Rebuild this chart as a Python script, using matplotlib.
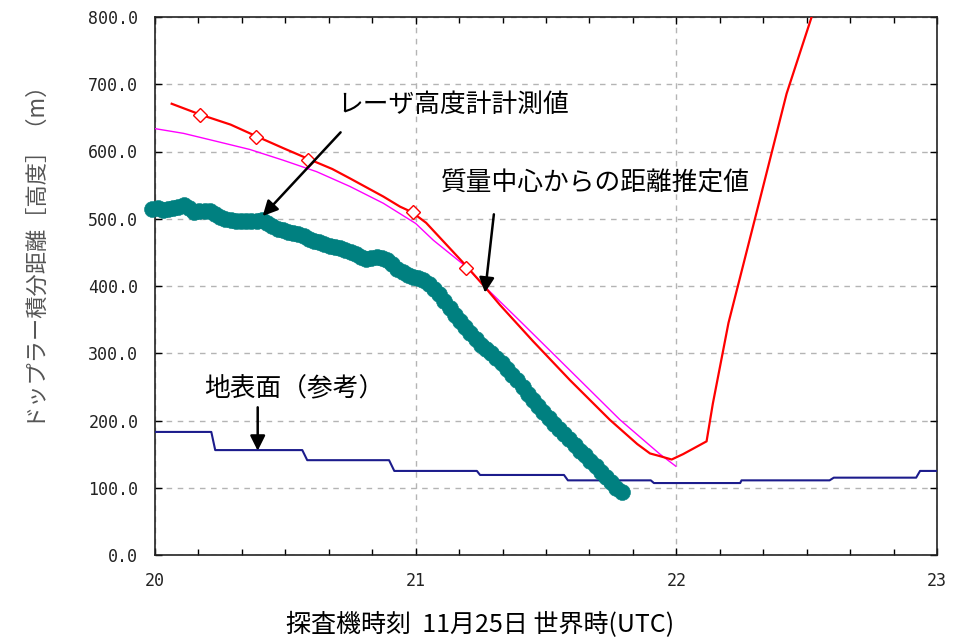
import matplotlib
matplotlib.use("Agg")
import matplotlib.pyplot as plt
from matplotlib.ticker import MultipleLocator, FormatStrFormatter

plt.rcParams['font.family'] = ['Noto Sans CJK JP', 'DejaVu Sans']

# ---- data (hours UTC, value in m) ----
ground_t = [20.00, 20.216, 20.231, 20.565, 20.584, 20.898, 20.918, 21.235, 21.247, 21.569,
            21.584, 21.902, 21.914, 22.245, 22.25, 22.588, 22.604, 22.92, 22.935, 23.00]
ground_v = [183, 183, 156, 156, 141, 141, 125, 125, 119, 119,
            111, 111, 107, 107, 111, 111, 115, 115, 125, 125]

teal_t = [19.99, 20.01, 20.03, 20.05, 20.07, 20.09, 20.11, 20.13, 20.15, 20.17,
          20.19, 20.21, 20.23, 20.25, 20.27, 20.29, 20.31, 20.33, 20.35, 20.37,
          20.39, 20.41, 20.43, 20.45, 20.47, 20.49, 20.51, 20.53, 20.55, 20.57,
          20.59, 20.61, 20.63, 20.65, 20.67, 20.69, 20.71, 20.73, 20.75, 20.77,
          20.79, 20.81, 20.83, 20.85, 20.87, 20.89, 20.91, 20.93, 20.95, 20.97,
          20.99, 21.01, 21.03, 21.05, 21.07, 21.09, 21.11, 21.13, 21.15, 21.17,
          21.19, 21.21, 21.23, 21.25, 21.27, 21.29, 21.31, 21.33, 21.35, 21.37,
          21.39, 21.41, 21.43, 21.45, 21.47, 21.49, 21.51, 21.53, 21.55, 21.57,
          21.59, 21.61, 21.63, 21.65, 21.67, 21.69, 21.71, 21.73, 21.75, 21.77,
          21.79]
teal_v = [514, 516, 513, 514, 516, 518, 521, 516, 510, 511,
          512, 511, 507, 502, 499, 498, 497, 497, 497, 496,
          497, 498, 494, 489, 485, 483, 481, 479, 477, 475,
          470, 467, 465, 462, 460, 458, 456, 453, 450, 447,
          443, 440, 441, 443, 442, 438, 433, 426, 421, 417,
          414, 412, 409, 403, 396, 388, 378, 367, 357, 348,
          339, 330, 321, 313, 306, 300, 293, 285, 276, 268,
          260, 250, 240, 231, 221, 212, 203, 195, 188, 180,
          172, 163, 155, 148, 140, 132, 124, 116, 108, 100,
          94]

laser_t = [20.064, 20.173, 20.29, 20.387, 20.492, 20.588, 20.68, 20.748, 20.876, 20.94,
           20.985, 21.04, 21.10, 21.196, 21.26, 21.323, 21.45, 21.592, 21.745, 21.85,
           21.899, 21.937, 21.982, 22.026, 22.116, 22.14, 22.20, 22.32, 22.423,
           22.519, 22.53]
laser_v = [671, 655, 640, 623, 605, 589, 574, 560, 533, 518,
           510, 494, 469, 429, 401, 372, 318, 260, 201, 165,
           151, 147, 142, 150, 169, 225, 345, 528, 686,
           800, 815]

diamond_t = [20.173, 20.387, 20.588, 20.991, 21.193]
diamond_v = [655, 622, 588, 510, 427]

cm_t = [20.0, 20.109, 20.237, 20.364, 20.492, 20.62, 20.748, 20.876, 21.0, 21.068,
        21.196, 21.26, 21.4, 21.63, 21.784, 21.937, 21.998]
cm_v = [634, 627, 615, 603, 587, 570, 548, 523, 493, 468,
        428, 401, 348, 260, 201, 150, 132]

y_label = "ドップラー積分距離［高度］（m）"
x_label = "探査機時刻  11月25日 世界時(UTC)"
lab_laser = "レーザ高度計計測値"
lab_cm = "質量中心からの距離推定値"
lab_ground = "地表面（参考）"

# ---- figure ----
fig = plt.figure(figsize=(9.63, 6.42), dpi=100)
ax = fig.add_axes([155/963, 87/642, 782/963, 538/642])

ax.plot(ground_t, ground_v, color='#1c1c8c', lw=1.5, zorder=3)
ax.plot(cm_t, cm_v, color='#ff00ff', lw=1.0, zorder=4)
ax.plot(laser_t, laser_v, color='#ff0000', lw=1.6, zorder=5)
ax.plot(diamond_t, diamond_v, ls='none', marker='D', ms=7, mfc='white',
        mec='#ff0000', mew=1.0, zorder=6)
ax.plot(teal_t, teal_v, ls='none', marker='o', ms=11.5, color='#008080',
        mec='#008080', mew=0.4, zorder=4, clip_on=False)

ax.set_xlim(20, 23)
ax.set_ylim(0, 800)
ax.xaxis.set_major_locator(MultipleLocator(1))
ax.xaxis.set_minor_locator(MultipleLocator(1/6))
ax.yaxis.set_major_locator(MultipleLocator(100))
ax.yaxis.set_major_formatter(FormatStrFormatter('%.1f'))
ax.xaxis.set_major_formatter(FormatStrFormatter('%d'))

ax.grid(True, which='major', color='#b4b4b4', ls=(0, (4, 4)), lw=1.0)
ax.tick_params(axis='both', which='both', direction='in', top=True, right=True,
               color='black', width=1.0)
ax.tick_params(axis='both', which='major', length=5)
ax.tick_params(axis='x', which='minor', length=4)
ax.tick_params(axis='y', which='major', pad=12)
ax.tick_params(axis='x', which='major', pad=12)
for lab in ax.get_xticklabels() + ax.get_yticklabels():
    lab.set_fontfamily('DejaVu Sans Mono')
    lab.set_fontsize(12)
    lab.set_color('#222222')
for sp in ax.spines.values():
    sp.set_linewidth(1.2)
    sp.set_color('#222222')

ax.set_ylabel(y_label, fontsize=16, color='#555555')
ax.yaxis.set_label_coords((43 - 155) / 782, (555 - 245) / 538)
ax.set_xlabel(x_label, fontsize=18, color='black')
ax.xaxis.set_label_coords((480 - 155) / 782, (555 - 612) / 538)

arrow = dict(arrowstyle='-|>,head_length=0.9,head_width=0.45', color='black',
             lw=1.8, shrinkA=0, shrinkB=0)
ax.annotate('', xy=(20.413, 504), xytext=(20.712, 628.5), arrowprops=arrow, zorder=7)
ax.annotate('', xy=(21.266, 390), xytext=(21.300, 506.6), arrowprops=arrow, zorder=7)
ax.annotate('', xy=(20.394, 155), xytext=(20.394, 219.6), arrowprops=arrow, zorder=7)

ax.text(21.143, 669, lab_laser, fontsize=18.5, ha='center', va='center', zorder=8)
ax.text(21.688, 553, lab_cm, fontsize=18.5, ha='center', va='center', zorder=8)
ax.text(20.533, 247, lab_ground, fontsize=18.5, ha='center', va='center', zorder=8)

fig.savefig('out.png', dpi=100)
